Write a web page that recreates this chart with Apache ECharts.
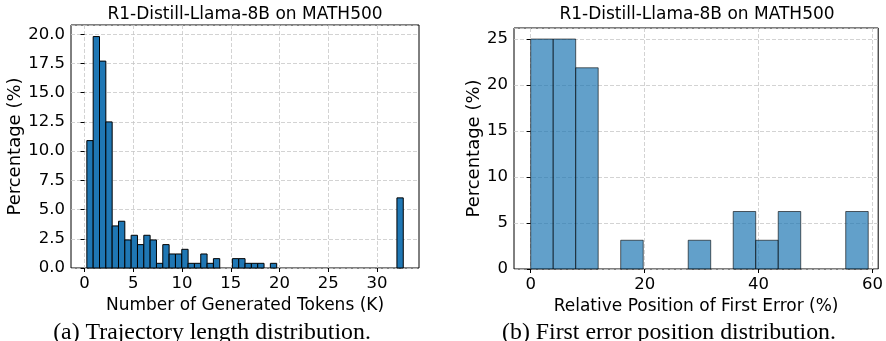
<!DOCTYPE html>
<html>
<head>
<meta charset="utf-8">
<script src="https://cdn.jsdelivr.net/npm/echarts@6/dist/echarts.min.js"></script>
<style>
  html, body { margin: 0; padding: 0; background: #fff; }
  #chart { width: 886px; height: 341px; }
</style>
</head>
<body>
<div id="chart"></div>
<script>
// (a) trajectory length histogram: 50 bins, percentage per bin
const tokenBinStart = 0.236
const tokenBinWidth = 0.649
const tokenPct = [
  10.9, 19.8, 17.7, 12.5, 3.6, 4.0, 2.4, 2.8, 2.0, 2.8,
  2.4, 0.4, 2.0, 1.2, 1.2, 1.6, 0.4, 0.4, 1.2, 0.4,
  0.8, 0, 0, 0.8, 0.8, 0.4, 0.4, 0.4, 0, 0.4,
  0, 0, 0, 0, 0, 0, 0, 0, 0, 0,
  0, 0, 0, 0, 0, 0, 0, 0, 0, 6.0,
]
const tokenTicks = [0, 5, 10, 15, 20, 25, 30]

// (b) first error position histogram: 15 bins
const errBinStart = 0
const errBinWidth = 3.95
const errPct = [25, 25, 21.875, 0, 3.125, 0, 0, 3.125, 0, 6.25, 3.125, 6.25, 0, 0, 6.25]
const errTicks = [0, 20, 40, 60]

const titleText = 'R1-Distill-Llama-8B on MATH500'
const captions = ['(a) Trajectory length distribution.', '(b) First error position distribution.']

const toBins = (start, width, vals) =>
  vals.map((v, i) => [start + i * width, start + (i + 1) * width, v])

const FONT = '"DejaVu Sans", sans-serif'

function histItem(fill, stroke) {
  return (params, api) => {
    const h = api.value(2)
    if (!h) return null
    const p0 = api.coord([api.value(0), h])
    const p1 = api.coord([api.value(1), 0])
    return {
      type: 'rect',
      shape: { x: p0[0], y: p0[1], width: p1[0] - p0[0], height: p1[1] - p0[1] },
      style: { fill: fill, stroke: stroke, lineWidth: 1 },
    }
  }
}

const gridLine = { show: true, lineStyle: { color: '#c8c8c8', type: [4, 2], width: 0.8 } }
const tick = { show: true, length: 4, lineStyle: { color: '#000' } }
const label = { color: '#000', fontSize: 16.5, fontFamily: FONT }

function xAxis(gridIndex, min, max, ticks, name) {
  return {
    type: 'value', gridIndex, min, max,
    axisLine: { show: false },
    axisTick: Object.assign({ customValues: ticks }, tick),
    axisLabel: Object.assign({ customValues: ticks, margin: 7 }, label),
    splitLine: gridLine,
    name, nameLocation: 'middle', nameGap: 27,
    nameTextStyle: { color: '#000', fontSize: 17, fontFamily: FONT },
  }
}

function yAxis(gridIndex, max, interval, fmt, gap) {
  return {
    type: 'value', gridIndex, min: 0, max, interval,
    axisLine: { show: false },
    axisTick: tick,
    axisLabel: Object.assign({ margin: 6, formatter: fmt, showMaxLabel: false }, label),
    splitLine: gridLine,
    name: 'Percentage (%)', nameLocation: 'middle', nameGap: gap,
    nameTextStyle: { color: '#000', fontSize: 18, fontFamily: FONT },
  }
}

const chart = echarts.init(document.getElementById('chart'), null, { renderer: 'canvas' })
chart.setOption({
  animation: false,
  grid: [
    { left: 71, top: 25, width: 348, height: 243, show: true, borderColor: '#000', borderWidth: 1, backgroundColor: 'transparent' },
    { left: 514, top: 28, width: 365, height: 241, show: true, borderColor: '#000', borderWidth: 1, backgroundColor: 'transparent' },
  ],
  xAxis: [
    xAxis(0, -1.39, 34.3, tokenTicks, 'Number of Generated Tokens (K)'),
    xAxis(1, -2.93, 61.0, errTicks, 'Relative Position of First Error (%)'),
  ],
  yAxis: [
    yAxis(0, 20.79, 2.5, (v) => v.toFixed(1), 45),
    yAxis(1, 26.2, 5, (v) => String(v), 31),
  ],
  series: [
    {
      type: 'custom', xAxisIndex: 0, yAxisIndex: 0,
      renderItem: histItem('#1f77b4', '#000'),
      encode: { x: [0, 1], y: 2 },
      data: toBins(tokenBinStart, tokenBinWidth, tokenPct),
    },
    {
      type: 'custom', xAxisIndex: 1, yAxisIndex: 1,
      renderItem: histItem('rgba(31,119,180,0.7)', 'rgba(0,0,0,0.6)'),
      encode: { x: [0, 1], y: 2 },
      data: toBins(errBinStart, errBinWidth, errPct),
    },
  ],
  graphic: [
    { type: 'text', x: 245, y: 15, style: { text: titleText, font: '17px ' + FONT, fill: '#000', align: 'center', verticalAlign: 'middle' } },
    { type: 'text', x: 697, y: 15, style: { text: titleText, font: '17px ' + FONT, fill: '#000', align: 'center', verticalAlign: 'middle' } },
    { type: 'text', x: 212, y: 333, style: { text: captions[0], font: '23.8px "Liberation Serif", serif', fill: '#000', align: 'center', verticalAlign: 'middle' } },
    { type: 'text', x: 669, y: 333, style: { text: captions[1], font: '23.8px "Liberation Serif", serif', fill: '#000', align: 'center', verticalAlign: 'middle' } },
  ],
})
</script>
</body>
</html>
